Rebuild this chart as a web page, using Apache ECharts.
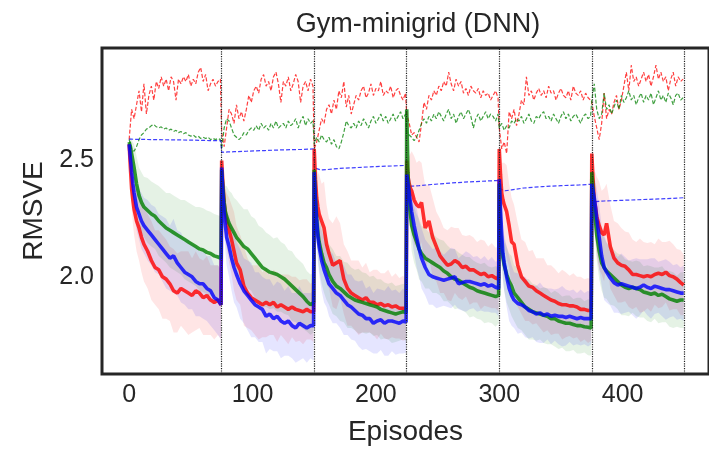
<!DOCTYPE html>
<html>
<head>
<meta charset="utf-8">
<script src="https://cdn.jsdelivr.net/npm/echarts@6/dist/echarts.min.js"></script>
<style>
  html, body { margin: 0; padding: 0; background: #ffffff; }
  #chart { width: 709px; height: 451px; }
</style>
</head>
<body>
<div id="chart"></div>
<script>
// Six consecutive tasks of 75 episodes each
const segmentStarts = [0, 75, 150, 225, 300, 375];
const taskBoundaries = [75, 150, 225, 300, 375, 450];

// Episode offsets within a task for the learner curves
const solidOffsets = [0, 1, 2, 3, 4, 6, 8, 10, 12, 15, 18, 21, 24, 27, 30, 33, 36, 39, 42, 45, 48, 51, 54, 57, 60, 63, 66, 69, 72, 74.5];
// Episode offsets for the noisy dashed baselines
const dashedOffsets = [0, 2, 4, 6, 8, 10, 12, 14, 16, 18, 20, 22, 24, 26, 28, 30, 32, 34, 36, 38, 40, 42, 44, 46, 48, 50, 52, 54, 56, 58, 60, 62, 64, 66, 68, 70, 72, 74];
// Episode offsets for the smooth blue dashed baseline
const smoothOffsets = [0, 2, 5, 10, 20, 35, 50, 65, 74.5];

const xTicks = [0, 100, 200, 300, 400];
const yTicks = [2.0, 2.5];

// Mean RMSVE (solid lines), one row per task
const redMean = [
  2.57,2.47,2.38,2.33,2.29,2.24,2.21,2.17,2.14,2.11,2.07,2.04,2.03,2.00,1.99,1.97,1.94,1.93,1.95,1.94,1.93,1.92,1.94,1.93,1.91,1.92,1.90,1.89,1.90,1.88,
  2.50,2.40,2.32,2.27,2.24,2.20,2.16,2.11,2.06,2.03,1.96,1.93,1.91,1.90,1.89,1.88,1.89,1.88,1.89,1.87,1.88,1.87,1.86,1.87,1.86,1.855,1.85,1.86,1.85,1.85,
  2.55,2.42,2.34,2.30,2.27,2.24,2.21,2.14,2.10,2.05,2.06,2.07,1.99,1.95,1.93,1.92,1.91,1.90,1.91,1.89,1.89,1.88,1.885,1.875,1.88,1.87,1.875,1.865,1.865,1.86,
  2.50,2.43,2.40,2.38,2.37,2.33,2.31,2.30,2.32,2.21,2.24,2.17,2.13,2.09,2.07,2.05,2.055,2.07,2.06,2.04,2.045,2.03,2.03,2.02,2.01,2.015,2.00,2.005,1.995,1.99,
  2.55,2.44,2.36,2.33,2.31,2.28,2.22,2.15,2.14,2.05,2.00,1.98,1.96,1.955,1.94,1.93,1.92,1.91,1.90,1.895,1.885,1.88,1.88,1.875,1.875,1.87,1.86,1.86,1.855,1.855,
  2.53,2.42,2.33,2.30,2.26,2.22,2.19,2.18,2.23,2.13,2.08,2.06,2.05,2.045,2.03,2.01,2.01,2.005,2.00,2.005,2.00,2.01,2.015,2.01,2.02,2.005,2.00,1.99,1.975,1.965
];
const greenMean = [
  2.58,2.56,2.53,2.50,2.47,2.40,2.35,2.32,2.30,2.285,2.27,2.26,2.24,2.225,2.21,2.20,2.19,2.18,2.17,2.16,2.15,2.14,2.13,2.12,2.115,2.105,2.10,2.09,2.085,2.08,
  2.46,2.38,2.32,2.28,2.26,2.23,2.21,2.19,2.17,2.15,2.13,2.12,2.10,2.08,2.06,2.04,2.03,2.02,2.015,2.01,2.00,1.99,1.975,1.96,1.945,1.93,1.915,1.895,1.88,1.89,
  2.46,2.34,2.25,2.19,2.15,2.10,2.06,2.04,2.01,1.98,1.96,1.95,1.935,1.92,1.91,1.90,1.895,1.89,1.885,1.88,1.875,1.87,1.86,1.855,1.85,1.845,1.84,1.845,1.85,1.845,
  2.72,2.45,2.33,2.27,2.22,2.18,2.15,2.12,2.10,2.08,2.07,2.06,2.05,2.04,2.025,2.015,2.00,1.99,1.985,1.975,1.965,1.955,1.95,1.94,1.935,1.93,1.925,1.92,1.915,1.92,
  2.40,2.20,2.12,2.08,2.05,2.01,1.98,1.96,1.93,1.91,1.89,1.87,1.86,1.85,1.845,1.84,1.835,1.83,1.82,1.82,1.81,1.805,1.80,1.80,1.795,1.79,1.79,1.785,1.783,1.78,
  2.45,2.38,2.30,2.24,2.18,2.11,2.06,2.04,2.025,2.01,1.995,1.98,1.965,1.955,1.95,1.955,1.95,1.945,1.935,1.93,1.925,1.93,1.92,1.925,1.915,1.905,1.90,1.895,1.90,1.90
];
const blueMean = [
  2.57,2.51,2.45,2.40,2.36,2.30,2.27,2.24,2.22,2.20,2.18,2.16,2.14,2.12,2.10,2.08,2.09,2.06,2.04,2.02,2.01,2.00,1.98,1.97,1.97,1.95,1.94,1.91,1.90,1.88,
  2.47,2.36,2.28,2.22,2.17,2.13,2.08,2.04,2.01,1.97,1.94,1.92,1.90,1.88,1.87,1.86,1.83,1.84,1.82,1.83,1.81,1.80,1.81,1.79,1.78,1.80,1.79,1.78,1.79,1.79,
  2.45,2.33,2.24,2.17,2.13,2.07,2.03,2.00,1.97,1.95,1.93,1.92,1.90,1.88,1.87,1.855,1.84,1.835,1.82,1.82,1.80,1.81,1.815,1.80,1.81,1.81,1.805,1.80,1.81,1.805,
  2.44,2.40,2.36,2.32,2.28,2.22,2.17,2.12,2.08,2.04,2.01,2.00,1.995,1.99,1.985,1.99,1.995,2.00,1.97,1.975,1.98,1.98,1.975,1.97,1.965,1.97,1.96,1.965,1.955,1.95,
  2.42,2.29,2.18,2.10,2.06,2.00,1.95,1.92,1.90,1.885,1.88,1.87,1.855,1.85,1.84,1.845,1.835,1.84,1.83,1.835,1.83,1.83,1.825,1.83,1.825,1.82,1.825,1.82,1.82,1.82,
  2.40,2.37,2.34,2.30,2.25,2.17,2.09,2.04,2.02,1.995,1.975,1.965,1.97,1.965,1.96,1.955,1.95,1.955,1.965,1.955,1.95,1.96,1.955,1.95,1.945,1.945,1.94,1.935,1.93,1.93
];

// Half-width of the shaded spread around each mean
const redSpread = [
  0.02,0.05,0.08,0.10,0.11,0.13,0.14,0.15,0.16,0.16,0.17,0.16,0.17,0.18,0.17,0.16,0.18,0.17,0.16,0.17,0.18,0.16,0.17,0.15,0.16,0.17,0.15,0.16,0.15,0.15,
  0.03,0.06,0.09,0.11,0.12,0.14,0.15,0.17,0.16,0.15,0.17,0.15,0.14,0.15,0.16,0.14,0.15,0.13,0.14,0.15,0.13,0.14,0.15,0.13,0.14,0.13,0.14,0.13,0.12,0.13,
  0.04,0.08,0.12,0.15,0.17,0.16,0.20,0.17,0.15,0.18,0.20,0.16,0.15,0.16,0.14,0.15,0.16,0.14,0.15,0.13,0.14,0.15,0.13,0.14,0.15,0.13,0.14,0.13,0.14,0.13,
  0.04,0.08,0.12,0.15,0.17,0.19,0.18,0.20,0.17,0.18,0.16,0.17,0.15,0.16,0.14,0.15,0.16,0.14,0.15,0.14,0.13,0.15,0.14,0.13,0.15,0.14,0.13,0.14,0.13,0.14,
  0.04,0.09,0.13,0.16,0.18,0.20,0.18,0.19,0.17,0.18,0.16,0.17,0.15,0.16,0.14,0.15,0.16,0.14,0.15,0.14,0.13,0.15,0.14,0.13,0.14,0.13,0.14,0.13,0.14,0.13,
  0.04,0.08,0.12,0.15,0.17,0.19,0.18,0.20,0.17,0.18,0.16,0.17,0.16,0.15,0.16,0.15,0.14,0.16,0.15,0.14,0.15,0.13,0.15,0.14,0.13,0.15,0.14,0.13,0.14,0.13
];
const greenSpread = [
  0.02,0.04,0.06,0.08,0.10,0.12,0.12,0.13,0.13,0.14,0.14,0.14,0.15,0.15,0.15,0.16,0.16,0.16,0.16,0.17,0.17,0.17,0.17,0.18,0.18,0.18,0.18,0.18,0.18,0.18,
  0.03,0.06,0.09,0.11,0.13,0.14,0.15,0.15,0.16,0.16,0.16,0.17,0.16,0.17,0.16,0.17,0.16,0.16,0.15,0.16,0.15,0.15,0.14,0.15,0.14,0.14,0.14,0.13,0.13,0.13,
  0.03,0.06,0.09,0.11,0.12,0.13,0.13,0.14,0.13,0.14,0.13,0.14,0.13,0.14,0.13,0.13,0.14,0.13,0.13,0.12,0.13,0.12,0.13,0.12,0.12,0.13,0.12,0.12,0.12,0.12,
  0.03,0.06,0.08,0.10,0.11,0.12,0.12,0.13,0.12,0.13,0.12,0.13,0.12,0.12,0.13,0.12,0.12,0.13,0.12,0.12,0.12,0.13,0.12,0.12,0.12,0.13,0.12,0.12,0.13,0.12,
  0.03,0.06,0.08,0.10,0.11,0.12,0.12,0.13,0.12,0.13,0.12,0.12,0.13,0.12,0.12,0.11,0.12,0.12,0.11,0.12,0.12,0.11,0.12,0.12,0.11,0.12,0.12,0.11,0.12,0.12,
  0.03,0.06,0.08,0.10,0.11,0.12,0.12,0.13,0.12,0.13,0.12,0.12,0.13,0.12,0.12,0.11,0.12,0.12,0.11,0.12,0.12,0.11,0.12,0.12,0.11,0.12,0.12,0.11,0.12,0.12
];
const blueSpread = [
  0.02,0.04,0.06,0.08,0.09,0.10,0.11,0.12,0.12,0.13,0.13,0.14,0.13,0.14,0.15,0.14,0.16,0.14,0.15,0.14,0.15,0.14,0.15,0.14,0.15,0.14,0.15,0.14,0.15,0.15,
  0.03,0.06,0.09,0.11,0.12,0.13,0.14,0.15,0.14,0.15,0.14,0.15,0.16,0.14,0.15,0.14,0.16,0.15,0.14,0.15,0.16,0.14,0.15,0.14,0.15,0.16,0.14,0.15,0.14,0.15,
  0.03,0.06,0.09,0.11,0.12,0.13,0.14,0.13,0.14,0.15,0.13,0.14,0.15,0.13,0.14,0.13,0.14,0.15,0.13,0.14,0.13,0.14,0.13,0.14,0.15,0.13,0.14,0.13,0.14,0.13,
  0.03,0.06,0.08,0.10,0.11,0.12,0.13,0.12,0.13,0.12,0.13,0.12,0.13,0.12,0.11,0.12,0.13,0.12,0.11,0.12,0.13,0.12,0.11,0.12,0.11,0.12,0.11,0.12,0.11,0.12,
  0.03,0.06,0.09,0.11,0.12,0.13,0.14,0.13,0.12,0.13,0.12,0.13,0.12,0.11,0.12,0.13,0.12,0.11,0.12,0.11,0.12,0.13,0.12,0.11,0.12,0.11,0.12,0.11,0.12,0.11,
  0.03,0.06,0.09,0.11,0.13,0.14,0.13,0.14,0.13,0.12,0.13,0.12,0.13,0.12,0.11,0.12,0.13,0.12,0.11,0.12,0.13,0.12,0.11,0.12,0.13,0.12,0.11,0.12,0.11,0.12
];

// Dashed baselines
const redBaseline = [
  2.59,2.72,2.68,2.74,2.80,2.71,2.83,2.70,2.78,2.82,2.76,2.84,2.81,2.86,2.82,2.85,2.80,2.86,2.84,2.76,2.85,2.83,2.86,2.84,2.87,2.82,2.85,2.83,2.88,2.90,2.84,2.87,2.80,2.83,2.85,2.82,2.84,2.85,
  2.62,2.56,2.64,2.72,2.70,2.66,2.74,2.68,2.71,2.67,2.72,2.78,2.75,2.80,2.82,2.79,2.85,2.87,2.82,2.84,2.80,2.86,2.88,2.83,2.75,2.84,2.82,2.86,2.80,2.83,2.87,2.84,2.75,2.82,2.84,2.80,2.85,2.82,
  2.55,2.58,2.63,2.68,2.66,2.72,2.74,2.70,2.76,2.72,2.80,2.77,2.84,2.73,2.78,2.70,2.74,2.78,2.76,2.80,2.82,2.77,2.79,2.83,2.78,2.81,2.80,2.84,2.78,2.80,2.79,2.82,2.77,2.80,2.81,2.78,2.76,2.79,
  2.70,2.66,2.61,2.62,2.60,2.58,2.66,2.75,2.72,2.78,2.76,2.80,2.78,2.82,2.80,2.84,2.82,2.88,2.83,2.80,2.85,2.82,2.84,2.79,2.81,2.78,2.82,2.80,2.79,2.81,2.77,2.80,2.78,2.79,2.76,2.78,2.80,2.77,
  2.64,2.55,2.58,2.53,2.71,2.68,2.72,2.65,2.70,2.76,2.74,2.86,2.78,2.80,2.76,2.79,2.81,2.78,2.80,2.77,2.82,2.79,2.80,2.76,2.79,2.81,2.78,2.77,2.80,2.76,2.82,2.79,2.78,2.80,2.76,2.79,2.77,2.76,
  2.75,2.69,2.64,2.59,2.66,2.79,2.68,2.72,2.70,2.75,2.78,2.72,2.76,2.82,2.88,2.80,2.91,2.84,2.86,2.82,2.85,2.88,2.84,2.87,2.82,2.86,2.91,2.85,2.88,2.84,2.86,2.80,2.85,2.88,2.82,2.86,2.84,2.85
];
const greenBaseline = [
  2.59,2.55,2.54,2.56,2.59,2.61,2.62,2.635,2.64,2.65,2.655,2.645,2.64,2.645,2.635,2.64,2.63,2.635,2.625,2.63,2.62,2.625,2.615,2.62,2.61,2.605,2.61,2.60,2.605,2.595,2.60,2.595,2.60,2.59,2.595,2.59,2.595,2.59,
  2.55,2.64,2.68,2.67,2.64,2.61,2.60,2.59,2.60,2.62,2.61,2.63,2.64,2.63,2.65,2.63,2.66,2.64,2.65,2.63,2.66,2.64,2.67,2.64,2.65,2.66,2.64,2.67,2.65,2.66,2.68,2.64,2.67,2.69,2.65,2.68,2.66,2.67,
  2.57,2.60,2.58,2.61,2.59,2.58,2.60,2.57,2.59,2.56,2.55,2.58,2.62,2.67,2.65,2.64,2.66,2.64,2.67,2.65,2.68,2.66,2.64,2.67,2.69,2.66,2.68,2.70,2.67,2.69,2.66,2.68,2.70,2.67,2.69,2.71,2.68,2.70,
  2.62,2.61,2.60,2.585,2.60,2.63,2.66,2.68,2.66,2.69,2.67,2.70,2.68,2.71,2.69,2.67,2.70,2.72,2.68,2.70,2.66,2.69,2.71,2.68,2.70,2.72,2.69,2.64,2.68,2.70,2.67,2.69,2.71,2.68,2.70,2.69,2.67,2.70,
  2.64,2.66,2.63,2.65,2.64,2.67,2.66,2.68,2.67,2.69,2.66,2.68,2.70,2.67,2.66,2.69,2.68,2.70,2.71,2.68,2.69,2.67,2.70,2.68,2.66,2.69,2.71,2.68,2.70,2.67,2.69,2.70,2.68,2.66,2.69,2.70,2.68,2.69,
  2.76,2.83,2.72,2.68,2.70,2.79,2.72,2.74,2.70,2.73,2.76,2.72,2.78,2.75,2.77,2.80,2.76,2.78,2.74,2.77,2.79,2.75,2.78,2.76,2.79,2.74,2.77,2.80,2.76,2.78,2.75,2.79,2.77,2.74,2.78,2.79,2.76,2.77
];
const blueBaseline = [
  2.592,2.592,2.591,2.591,2.590,2.589,2.588,2.586,2.585,
  2.535,2.536,2.537,2.538,2.540,2.543,2.546,2.548,2.550,
  2.472,2.465,2.460,2.461,2.466,2.470,2.474,2.477,2.479,
  2.393,2.390,2.390,2.392,2.397,2.403,2.408,2.412,2.414,
  2.385,2.375,2.370,2.374,2.382,2.388,2.392,2.395,2.398,
  2.322,2.322,2.324,2.326,2.328,2.331,2.334,2.337,2.340
];

const RED = '#ff0000', GREEN = '#008000', BLUE = '#0000ff';
const TEXT = '#262626';
const FONT = "'Liberation Sans', Arial, sans-serif";

function episodesFor(offsets) {
  const xs = [];
  segmentStarts.forEach(s => offsets.forEach(o => xs.push(s + o)));
  return xs;
}
const solidEpisodes = episodesFor(solidOffsets);
const dashedEpisodes = episodesFor(dashedOffsets);
const smoothEpisodes = episodesFor(smoothOffsets);

function pairs(xs, ys) { return xs.map((x, i) => [x, ys[i]]); }

// Shaded spread, one polygon per task
function spreadSeries(mean, spread, color) {
  const n = solidOffsets.length;
  return {
    type: 'custom',
    silent: true,
    z: 1,
    clip: true,
    data: segmentStarts.map(s => [s, 2.0]),
    renderItem(params, api) {
      const from = params.dataIndex * n;
      const upper = [], lower = [];
      for (let j = from; j < from + n; j++) {
        upper.push(api.coord([solidEpisodes[j], mean[j] + spread[j]]));
        lower.push(api.coord([solidEpisodes[j], mean[j] - spread[j]]));
      }
      return {
        type: 'polygon',
        shape: { points: upper.concat(lower.reverse()) },
        style: { fill: color, opacity: 0.1 }
      };
    }
  };
}

function meanSeries(mean, color) {
  return {
    type: 'line', silent: true, z: 4, symbol: 'none',
    data: pairs(solidEpisodes, mean),
    lineStyle: { color, width: 3.6, opacity: 0.8 }
  };
}

function baselineSeries(xs, ys, color, extra) {
  return Object.assign({
    type: 'line', silent: true, z: 3, symbol: 'none',
    data: pairs(xs, ys),
    lineStyle: { color, width: 1.2, type: [4, 2], opacity: 0.75 }
  }, extra || {});
}

const chart = echarts.init(document.getElementById('chart'), null, { renderer: 'canvas' });
chart.setOption({
  animation: false,
  backgroundColor: '#ffffff',
  title: {
    text: 'Gym-minigrid (DNN)',
    left: 413, top: 6, textAlign: 'center',
    textStyle: { fontFamily: FONT, fontSize: 27, fontWeight: 'normal', color: TEXT }
  },
  grid: {
    left: 102, top: 48, width: 617.7, height: 329,
    show: true, borderColor: TEXT, borderWidth: 3, backgroundColor: '#ffffff'
  },
  xAxis: {
    type: 'value', min: -22, max: 470,
    name: 'Episodes', nameLocation: 'middle', nameGap: 44,
    nameTextStyle: { fontFamily: FONT, fontSize: 28, color: TEXT },
    axisLine: { show: false }, axisTick: { show: false }, splitLine: { show: false },
    axisLabel: { customValues: xTicks, margin: 9, fontFamily: FONT, fontSize: 25, color: TEXT }
  },
  yAxis: {
    type: 'value', min: 1.582, max: 2.984,
    name: 'RMSVE', nameLocation: 'middle', nameGap: 54, nameRotate: 90,
    nameTextStyle: { fontFamily: FONT, fontSize: 28, color: TEXT },
    axisLine: { show: false }, axisTick: { show: false }, splitLine: { show: false },
    axisLabel: {
      customValues: yTicks, margin: 8, fontFamily: FONT, fontSize: 25, color: TEXT,
      formatter: v => v.toFixed(1)
    }
  },
  series: [
    spreadSeries(redMean, redSpread, RED),
    spreadSeries(greenMean, greenSpread, GREEN),
    spreadSeries(blueMean, blueSpread, BLUE),
    baselineSeries(dashedEpisodes, redBaseline, RED, {
      markLine: {
        silent: true, symbol: ['none', 'none'], label: { show: false },
        lineStyle: { color: '#222222', type: 'dotted', width: 1.2, opacity: 1 },
        data: taskBoundaries.map(v => ({ xAxis: v }))
      }
    }),
    baselineSeries(dashedEpisodes, greenBaseline, GREEN),
    baselineSeries(smoothEpisodes, blueBaseline, BLUE),
    meanSeries(redMean, RED),
    meanSeries(greenMean, GREEN),
    meanSeries(blueMean, BLUE)
  ]
});
</script>
</body>
</html>
